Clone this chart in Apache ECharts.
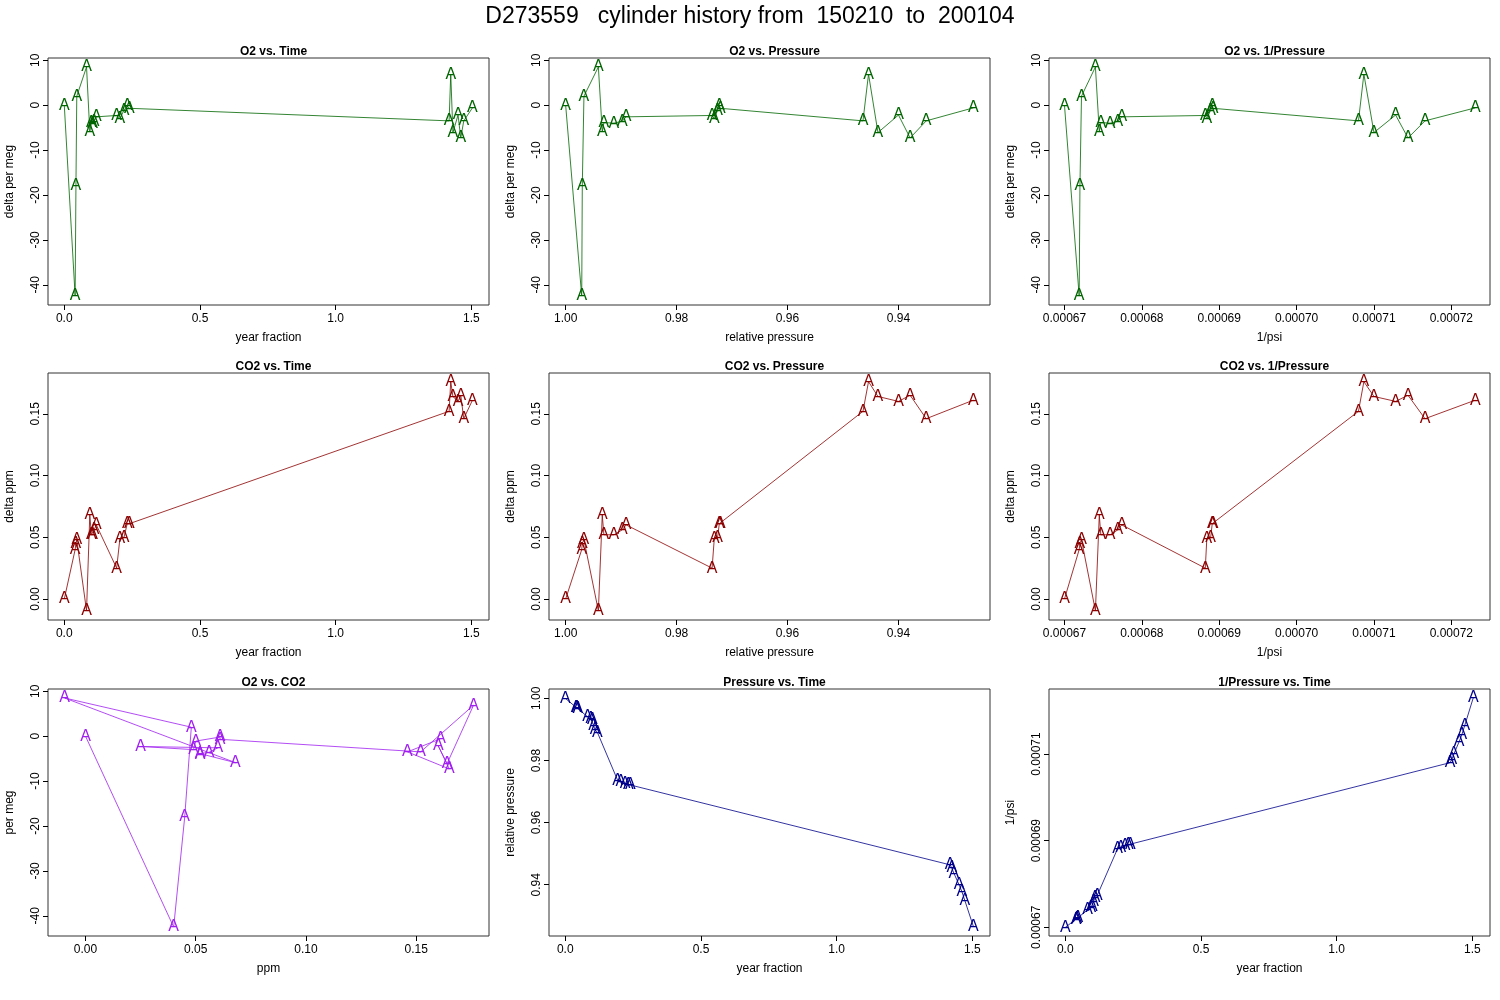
<!DOCTYPE html>
<html>
<head>
<meta charset="utf-8" />
<title>D273559 cylinder history</title>
<script src="https://cdn.jsdelivr.net/npm/echarts@6/dist/echarts.min.js"></script>
<style>html,body{margin:0;background:#fff}</style>
</head>
<body>
<div id="chart" style="width:1500px;height:1000px"></div>
<script>
// Per-analysis values, in time order
const yearFraction = [0, 0.040, 0.043, 0.046, 0.082, 0.094, 0.100, 0.104, 0.110, 0.118,
  0.193, 0.205, 0.220, 0.232, 0.240, 1.418, 1.424, 1.432, 1.451, 1.461, 1.472, 1.504];
const relPressure = [1.000, 0.9971, 0.9970, 0.9967, 0.9941, 0.9934, 0.9931, 0.9913, 0.9898, 0.9891,
  0.9736, 0.9732, 0.9726, 0.9723, 0.9721, 0.9464, 0.9454, 0.9437, 0.9400, 0.9379, 0.9350, 0.9265];
const invPsi = [0.0006700, 0.0006719, 0.0006720, 0.0006722, 0.0006740, 0.0006745, 0.0006747, 0.0006759,
  0.0006769, 0.0006774, 0.0006882, 0.0006884, 0.0006889, 0.0006891, 0.0006892, 0.0007080, 0.0007087,
  0.0007100, 0.0007128, 0.0007144, 0.0007166, 0.0007231];
const o2 = [0, -42.5, -18, 2, 8.5, -5.9, -3.9, -4, -3.6, -2.6,
  -2.3, -3, -1.1, -0.2, -0.7, -3.5, 6.9, -6.1, -2.2, -7.3, -3.5, -0.6];
const co2 = [0, 0.040, 0.045, 0.048, -0.0095, 0.068, 0.052, 0.052, 0.056, 0.060,
  0.025, 0.049, 0.050, 0.061, 0.061, 0.152, 0.176, 0.164, 0.160, 0.165, 0.146, 0.161];

const timeTicks = [0, 0.5, 1.0, 1.5];
const o2Ticks = [-40, -30, -20, -10, 0, 10];
const pressTicks = [1.00, 0.98, 0.96, 0.94];
const invTicksX = [0.00067, 0.00068, 0.00069, 0.00070, 0.00071, 0.00072];
const invTicksY = [0.00067, 0.00069, 0.00071];
const co2Ticks = [0, 0.05, 0.10, 0.15];

const GREEN = '#006400', RED = '#8B0000', PURPLE = '#A020F0', BLUE = '#00008B';

const axes = {
  time: {min: -0.06, max: 1.565, ticks: timeTicks, fmt: v => v.toFixed(1), name: 'year fraction'},
  o2: {min: -44.5, max: 10.5, ticks: o2Ticks, fmt: v => String(v)},
  press: {min: 0.9235, max: 1.003, ticks: pressTicks, fmt: v => v.toFixed(2), name: 'relative pressure'},
  inv: {min: 0.000668, max: 0.000725, ticks: invTicksX, fmt: v => v.toFixed(5), name: '1/psi'},
  invY: {min: 0.000668, max: 0.000725, ticks: invTicksY, fmt: v => v.toFixed(5), name: '1/psi'},
  co2: {min: -0.017, max: 0.183, ticks: co2Ticks, fmt: v => v.toFixed(2), name: 'ppm'}
};

const panels = [
  {title: 'O2 vs. Time', x: yearFraction, y: o2, xa: 'time', ya: 'o2', yname: 'delta per meg', c: GREEN},
  {title: 'O2 vs. Pressure', x: relPressure, y: o2, xa: 'press', ya: 'o2', yname: 'delta per meg', c: GREEN, inv: true},
  {title: 'O2 vs. 1/Pressure', x: invPsi, y: o2, xa: 'inv', ya: 'o2', yname: 'delta per meg', c: GREEN},
  {title: 'CO2 vs. Time', x: yearFraction, y: co2, xa: 'time', ya: 'co2', yname: 'delta ppm', c: RED},
  {title: 'CO2 vs. Pressure', x: relPressure, y: co2, xa: 'press', ya: 'co2', yname: 'delta ppm', c: RED, inv: true},
  {title: 'CO2 vs. 1/Pressure', x: invPsi, y: co2, xa: 'inv', ya: 'co2', yname: 'delta ppm', c: RED},
  {title: 'O2 vs. CO2', x: co2, y: o2, xa: 'co2', ya: 'o2', yname: 'per meg', c: PURPLE},
  {title: 'Pressure vs. Time', x: yearFraction, y: relPressure, xa: 'time', ya: 'press', yname: 'relative pressure', c: BLUE},
  {title: '1/Pressure vs. Time', x: yearFraction, y: invPsi, xa: 'time', ya: 'invY', yname: '1/psi', c: BLUE}
];

const colLeft = [48, 549, 1049];
const rowTop = [58, 373, 689];
const boxW = 441, boxH = 247;

const option = {
  animation: false,
  backgroundColor: '#fff',
  textStyle: {fontFamily: 'Liberation Sans, Arial, sans-serif'},
  title: [{text: 'D273559   cylinder history from  150210  to  200104', left: 'center', top: 0,
    textStyle: {fontSize: 23, fontWeight: 'normal', color: '#000'}}],
  grid: [], xAxis: [], yAxis: [], series: []
};

panels.forEach((p, i) => {
  const left = colLeft[i % 3], top = rowTop[Math.floor(i / 3)];
  option.title.push({text: p.title, left: left + boxW / 2, top: top - 17, textAlign: 'center',
    textStyle: {fontSize: 12, fontWeight: 'bold', color: '#000'}});
  option.grid.push({left: left, top: top, width: boxW, height: boxH, show: true,
    borderColor: '#333', borderWidth: 1, backgroundColor: 'transparent'});
  const xa = axes[p.xa], ya = axes[p.ya];
  option.xAxis.push({type: 'value', gridIndex: i, min: xa.min, max: xa.max, inverse: !!p.inv,
    name: xa.name, nameLocation: 'middle', nameGap: 27, nameTextStyle: {fontSize: 12, color: '#000'},
    axisLine: {show: false, onZero: false}, splitLine: {show: false},
    axisTick: {show: true, length: 5, lineStyle: {color: '#000'}, customValues: xa.ticks},
    axisLabel: {color: '#000', fontSize: 12, margin: 8, customValues: xa.ticks, formatter: xa.fmt}});
  option.yAxis.push({type: 'value', gridIndex: i, min: ya.min, max: ya.max,
    name: p.yname, nameLocation: 'middle', nameGap: 32, nameTextStyle: {fontSize: 12, color: '#000'},
    axisLine: {show: false, onZero: false}, splitLine: {show: false},
    axisTick: {show: true, length: 5, lineStyle: {color: '#000'}, customValues: ya.ticks},
    axisLabel: {color: '#000', fontSize: 12, margin: 6, rotate: 90, customValues: ya.ticks, formatter: ya.fmt}});
  const pts = p.x.map((v, k) => [v, p.y[k]]);
  option.series.push({type: 'line', xAxisIndex: i, yAxisIndex: i, data: pts, showSymbol: false,
    lineStyle: {color: p.c, width: 0.8}, silent: true});
  option.series.push({type: 'scatter', xAxisIndex: i, yAxisIndex: i, data: pts, symbolSize: 1,
    itemStyle: {opacity: 0}, silent: true,
    label: {show: true, position: 'inside', formatter: 'A', color: p.c, fontSize: 16, opacity: 1}});
});

echarts.init(document.getElementById('chart')).setOption(option);
</script>
</body>
</html>
